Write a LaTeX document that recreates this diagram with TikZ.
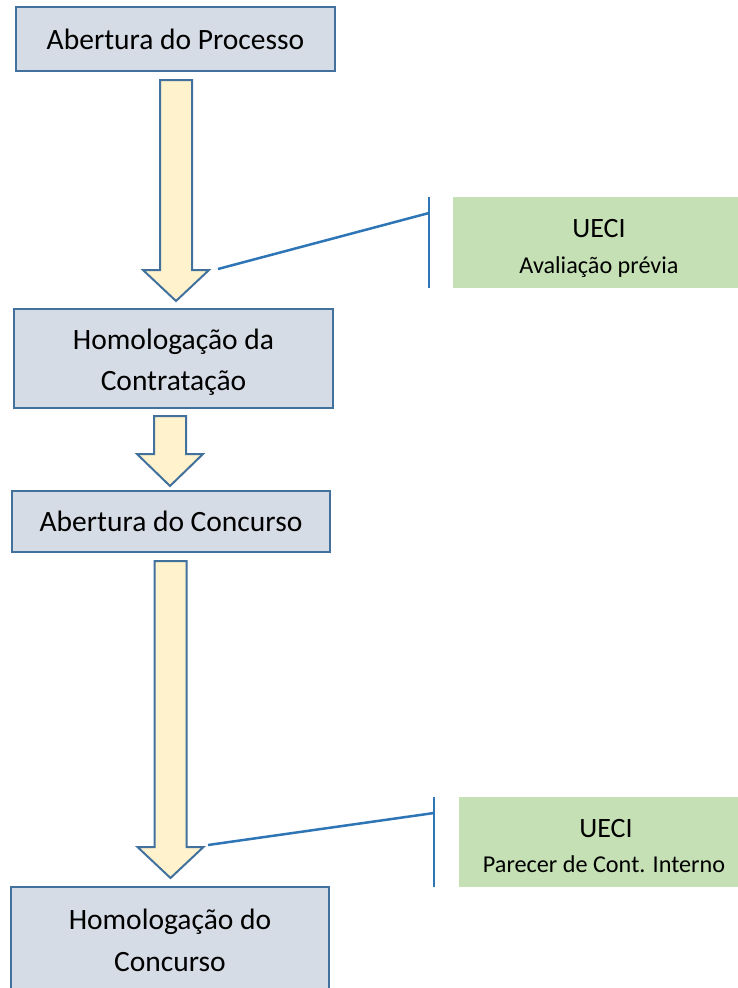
\documentclass[tikz,border=0pt]{standalone}
\usepackage{fontspec}
\setmainfont{Carlito}
\definecolor{boxfill}{HTML}{D6DCE5}
\definecolor{boxborder}{HTML}{41719C}
\definecolor{arrowfill}{HTML}{FFF2CC}
\definecolor{linecol}{HTML}{2E75B6}
\definecolor{greenfill}{HTML}{C5E0B4}
\tikzset{
  procbox/.style={draw=boxborder, line width=2.5pt, fill=boxfill, inner sep=0pt,
    align=center, font=\fontsize{29.5}{42}\selectfont},
  proctext/.style={inner sep=0pt, align=center, font=\fontsize{29.5}{41.5}\selectfont},
  greenbox/.style={fill=greenfill, inner sep=0pt},
  gtitle/.style={inner sep=0pt, font=\fontsize{28}{28}\selectfont},
  gsub/.style={inner sep=0pt, font=\fontsize{24.2}{24.2}\selectfont},
  blockarrow/.style={draw=boxborder, line width=2pt, fill=arrowfill, line join=miter},
  connector/.style={draw=linecol, line width=2.5pt},
}
\newcommand{\myarrow}[4]{% cx, top, headbase, tip
  \draw[blockarrow] (#1-16,#2) -- (#1+16,#2) -- (#1+16,#3) -- (#1+33,#3) -- (#1,#4)
    -- (#1-33,#3) -- (#1-16,#3) -- cycle;}
\begin{document}
\begin{tikzpicture}[x=1pt,y=-1pt]
\useasboundingbox (0,0) rectangle (738,988);
\clip (0,0) rectangle (738,988);
\fill[white] (0,0) rectangle (738,988);

\node[procbox, minimum width=319pt, minimum height=64pt] (b1) at (175.5,39) {Abertura do Processo};
\node[procbox, minimum width=319pt, minimum height=99pt] (b2) at (173.5,358.5) {};
\node[proctext] (b2t) at (173.5,362) {Homologação da\\Contratação};
\node[procbox, minimum width=318pt, minimum height=61pt] (b3) at (171,521.5) {Abertura do Concurso};
\node[procbox, minimum width=318pt, minimum height=110pt] (b4) at (170,942) {};
\node[proctext] (b4t) at (170,940.5) {Homologação do\\Concurso};

\myarrow{176}{80}{270}{301}
\myarrow{170}{416}{454}{486}
\myarrow{170.5}{561}{847}{878}

\node[greenbox, minimum width=292pt, minimum height=91pt] (g1) at (599,242.5) {};
\node[gtitle] (g1t) at (599,229) {UECI};
\node[gsub] (g1s) at (599,267) {Avaliação prévia};
\node[greenbox, minimum width=292pt, minimum height=90pt] (g2) at (605,842) {};
\node[gtitle] (g2t) at (606,829) {UECI};
\node[gsub] (g2s) at (604,864) {Parecer de Cont. Interno};

\coordinate (s1) at (218,269);
\coordinate (e1) at (429,213);
\coordinate (t1) at (429,197);
\coordinate (u1) at (429,288);
\coordinate (s2) at (208,845);
\coordinate (e2) at (434,813);
\coordinate (t2) at (434,797);
\coordinate (u2) at (434,887);
\draw[connector] (s1) -- (e1);
\draw[connector] (t1) -- (u1);
\draw[connector] (s2) -- (e2);
\draw[connector] (t2) -- (u2);
\end{tikzpicture}
\end{document}
